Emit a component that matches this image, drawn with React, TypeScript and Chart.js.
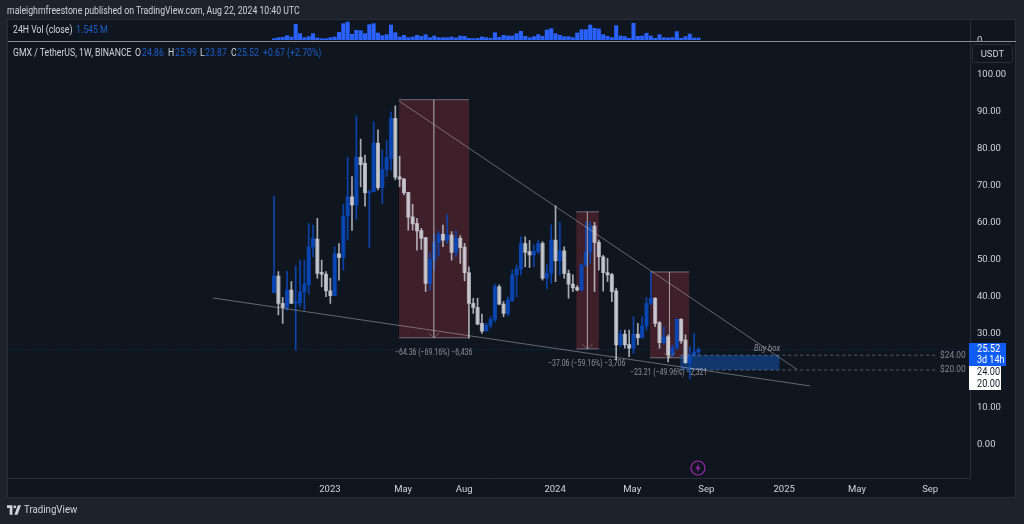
import React, { useEffect, useRef } from 'react';
import { Chart, registerables } from 'chart.js';

Chart.register(...registerables);

// weekly candles GMX/USDT
const opens = [40.9, 45.4, 38, 36.9, 41.6, 38, 38.2, 41.1, 43, 53.3, 55.4, 46.4, 45.9, 41.4, 40.1, 51.4, 50.4, 61.6, 66.8, 64.6, 77.5, 75.9, 67.9, 68.2, 81.3, 69.3, 74.2, 77.2, 88, 72.2, 71.6, 68, 61.4, 59.6, 57.7, 55.8, 43.4, 49.7, 54.4, 56.7, 55.1, 56.5, 51.8, 55.6, 53.2, 46.3, 38, 36.9, 32.6, 30.6, 32.1, 33.7, 42.5, 37.8, 35.3, 38.7, 45.7, 47.3, 54.2, 52, 51.1, 52, 54.2, 44.8, 46.1, 55.1, 49.5, 52.2, 46.1, 43.2, 42.3, 41.6, 48.4, 51.8, 58.9, 54.5, 50.6, 46.3, 45.8, 41.4, 26.8, 29.7, 26.9, 25.9, 29.7, 28.7, 31.9, 38, 39.4, 32.8, 27.4, 29, 24.1, 25.9, 33.7, 28.1, 22, 24.1, 24.86];
const highs = [67, 46.6, 39.6, 46.7, 43.9, 48.1, 49.7, 49.7, 59.6, 59.2, 61, 49.7, 46.6, 44.8, 53.3, 54.2, 64.8, 77.5, 72.3, 88.7, 82.4, 78.1, 68.5, 87.1, 84.9, 79.5, 82, 89.8, 91.4, 77.8, 71.8, 68, 64.8, 61, 58.3, 55.8, 51.7, 56.9, 57.4, 59.2, 62, 57.4, 57.6, 56.3, 54.2, 47.9, 39.4, 39.4, 35.1, 32.6, 34.4, 43.2, 43, 38.5, 39.8, 47, 48.4, 56, 56, 55, 53.8, 55.1, 54.7, 48.4, 59.2, 64.4, 59.9, 53.3, 47, 45.7, 42.8, 48.6, 60, 60.1, 59.9, 55.1, 51, 50.2, 46.1, 42.1, 30.8, 30.8, 30.8, 34.4, 32.6, 34.4, 39.6, 46.4, 39.6, 33.1, 31.7, 29.5, 26.7, 33.9, 33.9, 29.5, 26.3, 29.9, 25.99];
const lows = [40.9, 34.9, 32.6, 36.2, 38, 25.4, 37.1, 36.2, 40.5, 50.6, 44.8, 42.5, 39.8, 38, 40.1, 44.3, 47, 55.1, 57.7, 60.7, 69.5, 64.3, 53.1, 68.2, 68.7, 65, 72.3, 74, 71.4, 69.5, 67.3, 57.8, 57.8, 52.4, 52.6, 41.2, 41.6, 47, 50.8, 53.3, 54.2, 49.7, 50.6, 48.8, 44.1, 28.6, 35.3, 32.2, 29.9, 30.4, 31.3, 33, 37.6, 34.4, 34.6, 38.5, 39.8, 45.7, 47.9, 47.7, 47.9, 51.5, 44.3, 42, 43.4, 43.9, 45.7, 44.8, 39.4, 41.2, 41.4, 41.3, 48, 48.8, 41.2, 47, 41.3, 43.9, 38.5, 22.7, 26.3, 25.9, 23.6, 24.5, 26.8, 28.7, 30.8, 37.6, 31.7, 25.9, 27, 22.2, 23.6, 25.6, 27.2, 21.8, 17.5, 23.6, 23.87];
const closes = [45.4, 38, 36.9, 41.6, 38, 38.4, 41.1, 43.2, 53.3, 55.6, 46.1, 45.9, 41.4, 40.1, 51.4, 50.4, 61.6, 66.8, 64.6, 77.5, 75.5, 67.9, 68.2, 81.3, 69.3, 74.2, 77.4, 88, 72.1, 71.6, 67.9, 61.3, 59.5, 57.6, 55.6, 43.4, 49.9, 54.5, 56.7, 55.1, 56.5, 51.8, 55.6, 53.1, 46.3, 38, 36.9, 32.4, 30.5, 32.1, 33.7, 42.5, 37.8, 35.3, 38.9, 45.7, 47.3, 54.2, 51.8, 51.1, 52.1, 54.2, 44.8, 46.1, 55.1, 49.5, 52.2, 46.1, 43.2, 42.2, 41.6, 48.4, 51.8, 58.9, 54.5, 50.6, 46.3, 45.7, 41.2, 26.8, 29.7, 26.8, 25.9, 29.7, 28.7, 31.9, 38, 39.4, 32.6, 27.4, 29, 24.1, 25.9, 33.7, 27.9, 22, 24.1, 24.9, 25.52];
const volumes = [3, 6, 7, 12, 8, 46, 18, 6, 9, 18, 5, 3, 3, 6, 8, 22, 48, 53, 16, 28, 27, 18, 45, 48, 20, 12, 15, 44, 21, 8, 13, 6, 8, 13, 10, 15, 6, 11, 6, 6, 6, 8, 5, 11, 10, 4, 3, 4, 8, 6, 4, 21, 7, 13, 11, 11, 18, 25, 10, 6, 9, 15, 10, 29, 33, 18, 13, 9, 9, 6, 20, 30, 30, 44, 34, 32, 15, 10, 6, 42, 11, 9, 4, 49, 10, 11, 19, 11, 4, 15, 6, 5, 6, 24, 4, 9, 17, 5, 5];

const priceTicks = [0, 10, 20, 30, 40, 50, 60, 70, 80, 90, 100];
const timeTickWeeks = [12.9, 29.8, 43.9, 64.9, 82.7, 99.8, 117.8, 134.6, 151.5];
const timeTickLabels = ['2023', 'May', 'Aug', '2024', 'May', 'Sep', '2025', 'May', 'Sep'];

// measured drops (red boxes)
const boxStart = [28.87, 69.8, 86.8];
const boxEnd = [45.03, 75, 95.85];
const boxTop = [93.06, 62.76, 46.5];
const boxBottom = [28.7, 25.7, 23.29];
const boxMid = [36.9, 72.35, 91.3];

const lowerTrendWeeks = [-14.1, 123.8];
const lowerTrendPrices = [39.46, 15.68];
const upperTrendWeeks = [28.87, 120.7];
const upperTrendPrices = [92.7, 20.2];

const buyBoxWeeks = [93.8, 116.7];
const buyBoxPrices = [24, 20];
const levelEndWeek = 153;
const lastPrice = 25.52;

const WEEK_MIN = -61.43;
const WEEK_MAX = 160.7;
const FONT = 'Roboto, sans-serif';
const BLUE = 'rgba(10,72,185,0.92)';
const GREY = 'rgba(212,213,220,0.78)';
const LINE = 'rgba(205,205,210,0.45)';

const pts = (xs: number[], ys: number[]) => xs.map((x, i) => ({ x, y: ys[i] }));

const lineDs = (data: { x: number; y: number }[], color: string, dash: number[] = []) => ({
  type: 'line' as const,
  data,
  borderColor: color,
  borderWidth: 1,
  borderDash: dash,
  pointRadius: 0,
  order: 0,
});

// red boxes and the buy box sit under the candles
const zonesPlugin = {
  id: 'zones',
  beforeDatasetsDraw(chart: any) {
    const { ctx, scales } = chart;
    const { x, y } = scales;
    ctx.save();
    boxStart.forEach((s, i) => {
      const left = x.getPixelForValue(s);
      const right = x.getPixelForValue(boxEnd[i]);
      const top = y.getPixelForValue(boxTop[i]);
      const bottom = y.getPixelForValue(boxBottom[i]);
      ctx.fillStyle = 'rgba(152,50,60,0.35)';
      ctx.fillRect(left, top, right - left, bottom - top);
      ctx.strokeStyle = 'rgba(190,190,195,0.5)';
      ctx.lineWidth = 1;
      ctx.beginPath();
      ctx.moveTo(left, top);
      ctx.lineTo(right, top);
      ctx.moveTo(left, bottom);
      ctx.lineTo(right, bottom);
      ctx.stroke();
    });
    const bl = x.getPixelForValue(buyBoxWeeks[0]);
    const br = x.getPixelForValue(buyBoxWeeks[1]);
    const bt = y.getPixelForValue(buyBoxPrices[0]);
    const bb = y.getPixelForValue(buyBoxPrices[1]);
    ctx.fillStyle = 'rgba(20,85,190,0.5)';
    ctx.fillRect(bl, bt, br - bl, bb - bt);
    ctx.restore();
  },
};

// the reference text is narrower than any installed face, so squeeze it
const Txt: React.FC<{ x: number; y: number; c?: string; s?: number; sq?: number; style?: React.CSSProperties; children: React.ReactNode }> = ({ x, y, c = '#d1d4dc', s = 10, sq = 0.87, style, children }) => (
  <div style={{ position: 'absolute', left: x, top: y, color: c, fontSize: s, lineHeight: '12px', whiteSpace: 'nowrap', transform: `scaleX(${sq})`, transformOrigin: 'left center', ...style }}>{children}</div>
);

const App: React.FC = () => {
  const volRef = useRef<HTMLCanvasElement>(null);
  const mainRef = useRef<HTMLCanvasElement>(null);

  useEffect(() => {
    if (!volRef.current || !mainRef.current) return;
    const weeks = opens.map((_, i) => i);
    const tickFont = { family: FONT, size: 9.5 };

    // no room kept for half a label above or below the plot
    const fitRight = (axis: any) => {
      axis.width = 45;
      axis.paddingTop = 0;
      axis.paddingBottom = 0;
    };

    const volChart = new Chart(volRef.current, {
      type: 'bar',
      data: {
        datasets: [{
          data: pts(weeks, volumes),
          backgroundColor: '#2962ff',
          barThickness: 3.4,
          grouped: false,
        }],
      },
      options: {
        responsive: false,
        animation: false,
        events: [],
        layout: { padding: { left: 8, top: 20, right: 9, bottom: 0 } },
        plugins: { legend: { display: false }, tooltip: { enabled: false } },
        scales: {
          x: { type: 'linear', display: false, min: WEEK_MIN, max: WEEK_MAX, offset: false },
          y: {
            position: 'right',
            min: -4,
            max: 59,
            grid: { display: false, drawTicks: false },
            border: { color: '#2a2e39' },
            afterBuildTicks: (axis: any) => { axis.ticks = [{ value: 0 }]; },
            afterFit: fitRight,
            ticks: { color: '#d1d4dc', font: tickFont, padding: 7, labelOffset: 1, crossAlign: 'near', callback: () => '0' },
          },
        },
      },
    } as any);

    const mainChart = new Chart(mainRef.current, {
      type: 'bar',
      data: {
        datasets: [
          {
            data: weeks.map((i) => ({ x: i, y: [lows[i], highs[i]] })),
            backgroundColor: weeks.map((i) => (closes[i] >= opens[i] ? BLUE : GREY)),
            barThickness: 1,
            grouped: false,
            order: 3,
          },
          {
            data: weeks.map((i) => ({ x: i, y: [opens[i], closes[i]] })),
            backgroundColor: weeks.map((i) => (closes[i] >= opens[i] ? BLUE : GREY)),
            barThickness: 3.4,
            minBarLength: 1,
            grouped: false,
            order: 2,
          },
          lineDs(pts(lowerTrendWeeks, lowerTrendPrices), LINE),
          lineDs(pts(upperTrendWeeks, upperTrendPrices), LINE),
          lineDs(pts([WEEK_MIN, WEEK_MAX], [lastPrice, lastPrice]), 'rgba(41,98,255,0.3)', [1, 2]),
          lineDs(pts([buyBoxWeeks[0], levelEndWeek], [buyBoxPrices[0], buyBoxPrices[0]]), 'rgba(135,140,150,0.6)', [3, 3]),
          lineDs(pts([buyBoxWeeks[0], levelEndWeek], [buyBoxPrices[1], buyBoxPrices[1]]), 'rgba(135,140,150,0.6)', [3, 3]),
          ...boxMid.map((m, i) => lineDs(pts([m, m], [boxTop[i], boxBottom[i]]), 'rgba(205,205,210,0.35)')),
          ...boxMid.map((m, i) => lineDs(pts([m - 1.2, m, m + 1.2], [boxBottom[i] + 1.3, boxBottom[i], boxBottom[i] + 1.3]), 'rgba(205,205,210,0.35)')),
        ],
      },
      options: {
        responsive: false,
        animation: false,
        events: [],
        layout: { padding: { left: 8, top: 42, right: 9, bottom: 26 } },
        plugins: { legend: { display: false }, tooltip: { enabled: false } },
        scales: {
          x: {
            type: 'linear',
            min: WEEK_MIN,
            max: WEEK_MAX,
            offset: false,
            grid: { display: false, drawTicks: false },
            border: { color: '#2a2e39' },
            afterBuildTicks: (axis: any) => { axis.ticks = timeTickWeeks.map((value) => ({ value })); },
            afterFit: (axis: any) => { axis.height = 20; },
            ticks: {
              color: '#d1d4dc',
              font: tickFont,
              padding: 6,
              autoSkip: false,
              maxRotation: 0,
              callback: (v: number) => timeTickLabels[timeTickWeeks.indexOf(v)],
            },
          },
          y: {
            position: 'right',
            min: -9.19,
            max: 108.65,
            grid: { display: false, drawTicks: false },
            border: { color: '#2a2e39' },
            afterBuildTicks: (axis: any) => { axis.ticks = priceTicks.map((value) => ({ value })); },
            afterFit: fitRight,
            ticks: {
              color: '#d1d4dc',
              font: tickFont,
              padding: 7,
              labelOffset: 1,
              crossAlign: 'near',
              callback: (v: number) => v.toFixed(2),
            },
          },
        },
      },
      plugins: [zonesPlugin],
    } as any);

    return () => {
      volChart.destroy();
      mainChart.destroy();
    };
  }, []);

  const valueBlue = '#1c5cc8';
  const noteGrey = 'rgba(205,205,210,0.65)';
  const levelGrey = 'rgba(160,165,175,0.8)';

  return (
    <div style={{ position: 'absolute', left: 0, top: 0, width: 1024, height: 524, overflow: 'hidden', background: '#1e222d', fontFamily: FONT }}>
      {/* panes */}
      <div style={{ position: 'absolute', left: 7, top: 19, width: 1009, height: 479, background: '#10161f', border: '1px solid #2a2e39', boxSizing: 'border-box' }} />
      <div style={{ position: 'absolute', left: 8, top: 41, width: 1008, height: 1, background: '#8a8d94' }} />
      <canvas ref={volRef} width={1024} height={41} style={{ position: 'absolute', left: 0, top: 0 }} />
      <canvas ref={mainRef} width={1024} height={524} style={{ position: 'absolute', left: 0, top: 0 }} />

      {/* header */}
      <Txt x={7} y={5}>maleighmfreestone published on TradingView.com, Aug 22, 2024 10:40 UTC</Txt>
      <Txt x={13} y={24}>24H Vol (close)</Txt>
      <Txt x={76} y={24} c={valueBlue}>1.545 M</Txt>
      <Txt x={13} y={47}>GMX / TetherUS, 1W, BINANCE</Txt>
      <Txt x={135} y={47}>O</Txt>
      <Txt x={142} y={47} c={valueBlue}>24.86</Txt>
      <Txt x={168} y={47}>H</Txt>
      <Txt x={175} y={47} c={valueBlue}>25.99</Txt>
      <Txt x={200} y={47}>L</Txt>
      <Txt x={205} y={47} c={valueBlue}>23.87</Txt>
      <Txt x={231} y={47}>C</Txt>
      <Txt x={237} y={47} c={valueBlue}>25.52</Txt>
      <Txt x={263} y={47} c={valueBlue}>+0.67 (+2.70%)</Txt>

      {/* currency button */}
      <div style={{ position: 'absolute', left: 972, top: 44, width: 41, height: 19, border: '1px solid #2a2e39', borderRadius: 3, boxSizing: 'border-box', color: '#d1d4dc', fontSize: 9.5, lineHeight: '17px', textAlign: 'center' }}>USDT</div>

      {/* price labels */}
      <div style={{ position: 'absolute', left: 969, top: 343, width: 37, height: 23, background: '#0f5cf5' }} />
      <div style={{ position: 'absolute', left: 969, top: 366, width: 32, height: 24, background: '#fff' }} />
      <Txt x={977} y={343} sq={0.92} c="#fff">25.52</Txt>
      <Txt x={977} y={354} sq={0.9} c="#fff">3d 14h</Txt>
      <Txt x={977} y={366} sq={0.92} c="#131722">24.00</Txt>
      <Txt x={977} y={378} sq={0.92} c="#131722">20.00</Txt>

      {/* annotations */}
      <Txt x={395} y={346} s={8.5} sq={0.82} c={noteGrey}>−64.36 (−69.16%) −6,436</Txt>
      <Txt x={548} y={357} s={8.5} sq={0.82} c={noteGrey}>−37.06 (−59.16%) −3,706</Txt>
      <Txt x={630} y={366} s={8.5} sq={0.82} c={noteGrey}>−23.21 (−49.96%) −2,321</Txt>
      <Txt x={754} y={342} s={8.5} sq={0.9} c={noteGrey} style={{ fontStyle: 'italic' }}>Buy box</Txt>
      <Txt x={940} y={349} s={9.5} sq={0.88} c={levelGrey}>$24.00</Txt>
      <Txt x={940} y={363} s={9.5} sq={0.88} c={levelGrey}>$20.00</Txt>

      {/* lightning marker */}
      <svg width="16" height="16" viewBox="0 0 16 16" style={{ position: 'absolute', left: 690, top: 460 }}>
        <circle cx="8" cy="8" r="7" fill="none" stroke="#9c27b0" strokeWidth="1.2" />
        <path d="M9 3.5 L5.5 8.7 H7.8 L7 12.5 L10.5 7.3 H8.2 Z" fill="#9c27b0" />
      </svg>

      {/* footer logo */}
      <svg width="14" height="10" viewBox="0 0 36 24" style={{ position: 'absolute', left: 7, top: 505 }}>
        <path d="M0 0 H14 V24 H7 V7 H0 Z M28 0 H36 L27 24 H19 Z" fill="#d1d4dc" />
        <circle cx="20" cy="4" r="3.6" fill="#d1d4dc" />
      </svg>
      <Txt x={24} y={504} s={11} sq={0.88}>TradingView</Txt>
    </div>
  );
};

export default App;
